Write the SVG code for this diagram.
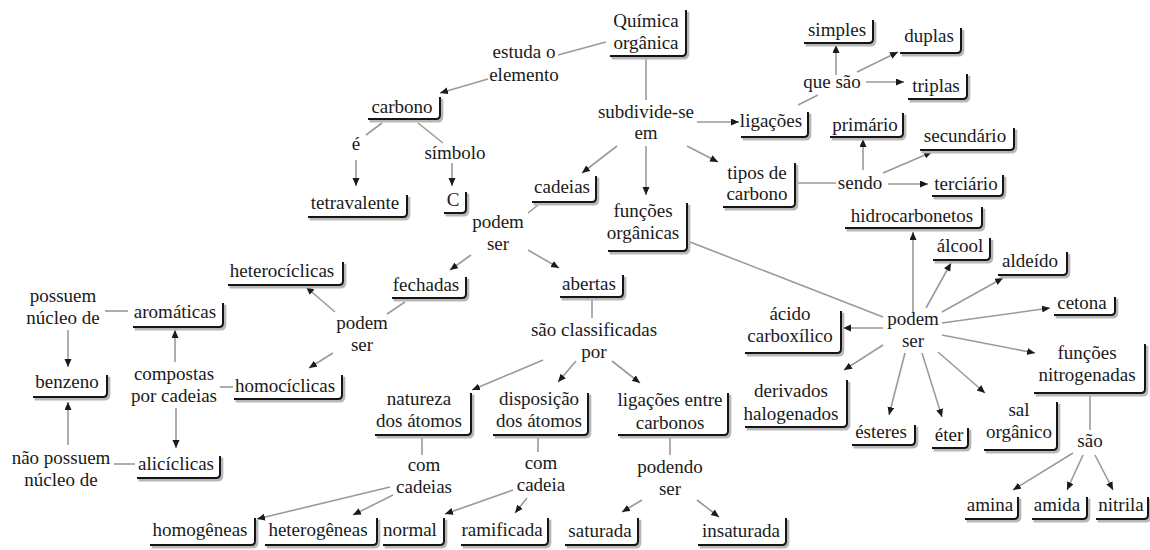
<svg xmlns="http://www.w3.org/2000/svg" width="1150" height="550" viewBox="0 0 1150 550">
<defs>
<marker id="ah" markerUnits="userSpaceOnUse" markerWidth="9" markerHeight="8" refX="8" refY="3.5" orient="auto">
<path d="M0,0 L8,3.5 L0,7 z" fill="#1a1a1a"/>
</marker>
<path id="b01" d="M610,56 H682 Q686,56 686,52 V10"/>
<path id="b02" d="M368,119 H436 Q440,119 440,115 V97"/>
<path id="b03" d="M308,217 H403 Q407,217 407,213 V195"/>
<path id="b04" d="M444,213 H462 Q466,213 466,209 V192"/>
<path id="b05" d="M741,137 H804 Q808,137 808,133 V112"/>
<path id="b06" d="M804,43 H869 Q873,43 873,39 V20"/>
<path id="b07" d="M900,53 H957 Q961,53 961,49 V28"/>
<path id="b08" d="M908,99 H963 Q967,99 967,95 V74"/>
<path id="b09" d="M830,137 H899 Q903,137 903,133 V113"/>
<path id="b10" d="M920,150 H1010 Q1014,150 1014,146 V128"/>
<path id="b11" d="M932,196 H999 Q1003,196 1003,192 V175"/>
<path id="b12" d="M723,207 H791 Q795,207 795,203 V163"/>
<path id="b13" d="M532,202 H592 Q596,202 596,198 V176"/>
<path id="b14" d="M608,251 H683 Q687,251 687,247 V203"/>
<path id="b15" d="M228,285 H339 Q343,285 343,281 V262"/>
<path id="b16" d="M392,298 H462 Q466,298 466,294 V277"/>
<path id="b17" d="M560,297 H619 Q623,297 623,293 V275"/>
<path id="b18" d="M133,327 H219 Q223,327 223,323 V303"/>
<path id="b19" d="M234,399 H338 Q342,399 342,395 V375"/>
<path id="b20" d="M33,397 H103 Q107,397 107,393 V375"/>
<path id="b21" d="M137,478 H216 Q220,478 220,474 V456"/>
<path id="b22" d="M375,435 H467 Q471,435 471,431 V393"/>
<path id="b23" d="M493,435 H584 Q588,435 588,431 V393"/>
<path id="b24" d="M618,435 H724 Q728,435 728,431 V393"/>
<path id="b25" d="M150,545 H251 Q255,545 255,541 V518"/>
<path id="b26" d="M265,545 H373 Q377,545 377,541 V518"/>
<path id="b27" d="M383,545 H440 Q444,545 444,541 V518"/>
<path id="b28" d="M461,545 H544 Q548,545 548,541 V518"/>
<path id="b29" d="M565,545 H634 Q638,545 638,541 V518"/>
<path id="b30" d="M698,545 H782 Q786,545 786,541 V518"/>
<path id="b31" d="M845,228 H978 Q982,228 982,224 V207"/>
<path id="b32" d="M933,260 H986 Q990,260 990,256 V238"/>
<path id="b33" d="M998,275 H1063 Q1067,275 1067,271 V252"/>
<path id="b34" d="M1054,315 H1111 Q1115,315 1115,311 V297"/>
<path id="b35" d="M1034,393 H1141 Q1145,393 1145,389 V344"/>
<path id="b36" d="M745,353 H837 Q841,353 841,349 V311"/>
<path id="b37" d="M745,427 H843 Q847,427 847,423 V380"/>
<path id="b38" d="M852,445 H911 Q915,445 915,441 V425"/>
<path id="b39" d="M932,448 H964 Q968,448 968,444 V428"/>
<path id="b40" d="M984,450 H1053 Q1057,450 1057,446 V402"/>
<path id="b41" d="M965,519 H1014 Q1018,519 1018,515 V497"/>
<path id="b42" d="M1032,519 H1083 Q1087,519 1087,515 V497"/>
<path id="b43" d="M1096,519 H1144 Q1148,519 1148,515 V497"/>
</defs>
<rect width="1150" height="550" fill="#fff"/>

<g id="connectors" stroke="#9a9a9a" stroke-width="1.6" fill="none">
<line x1="606" y1="42" x2="558" y2="55"/>
<line marker-end="url(#ah)" x1="488" y1="79" x2="440" y2="93"/>
<line x1="382" y1="123" x2="366" y2="135"/>
<line marker-end="url(#ah)" x1="356" y1="160" x2="356" y2="186"/>
<line x1="418" y1="123" x2="443" y2="143"/>
<line marker-end="url(#ah)" x1="452" y1="163" x2="452" y2="186"/>
<line x1="646" y1="56" x2="646" y2="100"/>
<line marker-end="url(#ah)" x1="697" y1="122" x2="739" y2="122"/>
<line x1="798" y1="105" x2="818" y2="95"/>
<line marker-end="url(#ah)" x1="836" y1="75" x2="836" y2="45"/>
<line marker-end="url(#ah)" x1="857" y1="72" x2="898" y2="52"/>
<line marker-end="url(#ah)" x1="866" y1="82" x2="904" y2="82"/>
<line marker-end="url(#ah)" x1="617" y1="146" x2="582" y2="173"/>
<line marker-end="url(#ah)" x1="646" y1="146" x2="646" y2="195"/>
<line marker-end="url(#ah)" x1="687" y1="146" x2="718" y2="162"/>
<line x1="797" y1="183" x2="836" y2="183"/>
<line marker-end="url(#ah)" x1="863" y1="170" x2="863" y2="139"/>
<line marker-end="url(#ah)" x1="883" y1="173" x2="932" y2="152"/>
<line marker-end="url(#ah)" x1="888" y1="184" x2="928" y2="184"/>
<line x1="538" y1="205" x2="528" y2="213"/>
<line marker-end="url(#ah)" x1="471" y1="255" x2="450" y2="270"/>
<line marker-end="url(#ah)" x1="528" y1="250" x2="559" y2="268"/>
<line x1="405" y1="302" x2="387" y2="314"/>
<line marker-end="url(#ah)" x1="335" y1="312" x2="306" y2="287"/>
<line marker-end="url(#ah)" x1="333" y1="353" x2="309" y2="368"/>
<line x1="233" y1="387" x2="220" y2="387"/>
<line marker-end="url(#ah)" x1="175" y1="362" x2="175" y2="330"/>
<line marker-end="url(#ah)" x1="176" y1="408" x2="176" y2="448"/>
<line x1="128" y1="311" x2="105" y2="311"/>
<line marker-end="url(#ah)" x1="68" y1="330" x2="68" y2="367"/>
<line x1="135" y1="464" x2="114" y2="464"/>
<line marker-end="url(#ah)" x1="68" y1="445" x2="68" y2="402"/>
<line x1="592" y1="298" x2="592" y2="318"/>
<line marker-end="url(#ah)" x1="543" y1="360" x2="472" y2="390"/>
<line marker-end="url(#ah)" x1="576" y1="361" x2="558" y2="382"/>
<line marker-end="url(#ah)" x1="612" y1="361" x2="640" y2="383"/>
<line x1="422" y1="436" x2="422" y2="455"/>
<line marker-end="url(#ah)" x1="390" y1="487" x2="257" y2="519"/>
<line marker-end="url(#ah)" x1="393" y1="495" x2="353" y2="515"/>
<line x1="538" y1="436" x2="538" y2="452"/>
<line marker-end="url(#ah)" x1="513" y1="490" x2="445" y2="514"/>
<line marker-end="url(#ah)" x1="527" y1="498" x2="515" y2="513"/>
<line x1="670" y1="436" x2="670" y2="455"/>
<line marker-end="url(#ah)" x1="642" y1="500" x2="622" y2="512"/>
<line marker-end="url(#ah)" x1="697" y1="500" x2="719" y2="517"/>
<line x1="690" y1="242" x2="883" y2="317"/>
<line marker-end="url(#ah)" x1="883" y1="328" x2="843" y2="328"/>
<line marker-end="url(#ah)" x1="913" y1="313" x2="913" y2="232"/>
<line marker-end="url(#ah)" x1="926" y1="308" x2="951" y2="263"/>
<line marker-end="url(#ah)" x1="942" y1="312" x2="1003" y2="278"/>
<line marker-end="url(#ah)" x1="942" y1="323" x2="1050" y2="308"/>
<line marker-end="url(#ah)" x1="942" y1="335" x2="1035" y2="353"/>
<line marker-end="url(#ah)" x1="883" y1="345" x2="844" y2="370"/>
<line marker-end="url(#ah)" x1="905" y1="353" x2="889" y2="415"/>
<line marker-end="url(#ah)" x1="922" y1="353" x2="942" y2="417"/>
<line marker-end="url(#ah)" x1="938" y1="352" x2="985" y2="393"/>
<line x1="1090" y1="394" x2="1090" y2="430"/>
<line marker-end="url(#ah)" x1="1073" y1="453" x2="1013" y2="490"/>
<line marker-end="url(#ah)" x1="1083" y1="455" x2="1067" y2="490"/>
<line marker-end="url(#ah)" x1="1095" y1="455" x2="1113" y2="490"/>
</g>

<g id="box-shadows" fill="none" stroke="#b8b8b8" stroke-width="3.5" transform="translate(1.6,1.8)">
<use href="#b01"/><use href="#b02"/><use href="#b03"/><use href="#b04"/><use href="#b05"/><use href="#b06"/><use href="#b07"/><use href="#b08"/><use href="#b09"/><use href="#b10"/><use href="#b11"/><use href="#b12"/><use href="#b13"/><use href="#b14"/><use href="#b15"/><use href="#b16"/><use href="#b17"/><use href="#b18"/><use href="#b19"/><use href="#b20"/><use href="#b21"/><use href="#b22"/><use href="#b23"/><use href="#b24"/><use href="#b25"/><use href="#b26"/><use href="#b27"/><use href="#b28"/><use href="#b29"/><use href="#b30"/><use href="#b31"/><use href="#b32"/><use href="#b33"/><use href="#b34"/><use href="#b35"/><use href="#b36"/><use href="#b37"/><use href="#b38"/><use href="#b39"/><use href="#b40"/><use href="#b41"/><use href="#b42"/><use href="#b43"/>
</g>
<g id="box-edges" fill="none" stroke="#151515" stroke-width="2">
<use href="#b01"/><use href="#b02"/><use href="#b03"/><use href="#b04"/><use href="#b05"/><use href="#b06"/><use href="#b07"/><use href="#b08"/><use href="#b09"/><use href="#b10"/><use href="#b11"/><use href="#b12"/><use href="#b13"/><use href="#b14"/><use href="#b15"/><use href="#b16"/><use href="#b17"/><use href="#b18"/><use href="#b19"/><use href="#b20"/><use href="#b21"/><use href="#b22"/><use href="#b23"/><use href="#b24"/><use href="#b25"/><use href="#b26"/><use href="#b27"/><use href="#b28"/><use href="#b29"/><use href="#b30"/><use href="#b31"/><use href="#b32"/><use href="#b33"/><use href="#b34"/><use href="#b35"/><use href="#b36"/><use href="#b37"/><use href="#b38"/><use href="#b39"/><use href="#b40"/><use href="#b41"/><use href="#b42"/><use href="#b43"/>
</g>

<g id="n-quimica"><text font-family="Liberation Serif" font-size="19" text-anchor="middle" fill="#1a1a1a" x="646" y="27">Química</text><text font-family="Liberation Serif" font-size="19" text-anchor="middle" fill="#1a1a1a" x="646" y="49">orgânica</text></g>
<g id="n-carbono"><text font-family="Liberation Serif" font-size="19" text-anchor="middle" fill="#1a1a1a" x="402" y="113">carbono</text></g>
<g id="n-tetravalente"><text font-family="Liberation Serif" font-size="19" text-anchor="middle" fill="#1a1a1a" x="355" y="209">tetravalente</text></g>
<g id="n-c"><text font-family="Liberation Serif" font-size="19" text-anchor="middle" fill="#1a1a1a" x="453" y="206">C</text></g>
<g id="n-ligacoes"><text font-family="Liberation Serif" font-size="19" text-anchor="middle" fill="#1a1a1a" x="771" y="127">ligações</text></g>
<g id="n-simples"><text font-family="Liberation Serif" font-size="19" text-anchor="middle" fill="#1a1a1a" x="837" y="36">simples</text></g>
<g id="n-duplas"><text font-family="Liberation Serif" font-size="19" text-anchor="middle" fill="#1a1a1a" x="929" y="42">duplas</text></g>
<g id="n-triplas"><text font-family="Liberation Serif" font-size="19" text-anchor="middle" fill="#1a1a1a" x="936" y="92">triplas</text></g>
<g id="n-primario"><text font-family="Liberation Serif" font-size="19" text-anchor="middle" fill="#1a1a1a" x="865" y="131">primário</text></g>
<g id="n-secundario"><text font-family="Liberation Serif" font-size="19" text-anchor="middle" fill="#1a1a1a" x="965" y="142">secundário</text></g>
<g id="n-terciario"><text font-family="Liberation Serif" font-size="19" text-anchor="middle" fill="#1a1a1a" x="966" y="190">terciário</text></g>
<g id="n-tipos"><text font-family="Liberation Serif" font-size="19" text-anchor="middle" fill="#1a1a1a" x="757" y="179">tipos de</text><text font-family="Liberation Serif" font-size="19" text-anchor="middle" fill="#1a1a1a" x="757" y="200">carbono</text></g>
<g id="n-cadeias"><text font-family="Liberation Serif" font-size="19" text-anchor="middle" fill="#1a1a1a" x="562" y="193">cadeias</text></g>
<g id="n-funcoes"><text font-family="Liberation Serif" font-size="19" text-anchor="middle" fill="#1a1a1a" x="643" y="217">funções</text><text font-family="Liberation Serif" font-size="19" text-anchor="middle" fill="#1a1a1a" x="643" y="239">orgânicas</text></g>
<g id="n-heterociclicas"><text font-family="Liberation Serif" font-size="19" text-anchor="middle" fill="#1a1a1a" x="282" y="277">heterocíclicas</text></g>
<g id="n-fechadas"><text font-family="Liberation Serif" font-size="19" text-anchor="middle" fill="#1a1a1a" x="426" y="291">fechadas</text></g>
<g id="n-abertas"><text font-family="Liberation Serif" font-size="19" text-anchor="middle" fill="#1a1a1a" x="589" y="290">abertas</text></g>
<g id="n-aromaticas"><text font-family="Liberation Serif" font-size="19" text-anchor="middle" fill="#1a1a1a" x="175" y="318">aromáticas</text></g>
<g id="n-homociclicas"><text font-family="Liberation Serif" font-size="19" text-anchor="middle" fill="#1a1a1a" x="285" y="392">homocíclicas</text></g>
<g id="n-benzeno"><text font-family="Liberation Serif" font-size="19" text-anchor="middle" fill="#1a1a1a" x="67" y="388">benzeno</text></g>
<g id="n-aliciclicas"><text font-family="Liberation Serif" font-size="19" text-anchor="middle" fill="#1a1a1a" x="176" y="470">alicíclicas</text></g>
<g id="n-natureza"><text font-family="Liberation Serif" font-size="19" text-anchor="middle" fill="#1a1a1a" x="419" y="405">natureza</text><text font-family="Liberation Serif" font-size="19" text-anchor="middle" fill="#1a1a1a" x="419" y="427">dos átomos</text></g>
<g id="n-disposicao"><text font-family="Liberation Serif" font-size="19" text-anchor="middle" fill="#1a1a1a" x="539" y="405">disposição</text><text font-family="Liberation Serif" font-size="19" text-anchor="middle" fill="#1a1a1a" x="539" y="427">dos átomos</text></g>
<g id="n-ligacoes-entre"><text font-family="Liberation Serif" font-size="19" text-anchor="middle" fill="#1a1a1a" x="670" y="406">ligações entre</text><text font-family="Liberation Serif" font-size="19" text-anchor="middle" fill="#1a1a1a" x="670" y="429">carbonos</text></g>
<g id="n-homogeneas"><text font-family="Liberation Serif" font-size="19" text-anchor="middle" fill="#1a1a1a" x="200" y="536">homogêneas</text></g>
<g id="n-heterogeneas"><text font-family="Liberation Serif" font-size="19" text-anchor="middle" fill="#1a1a1a" x="318" y="536">heterogêneas</text></g>
<g id="n-normal"><text font-family="Liberation Serif" font-size="19" text-anchor="middle" fill="#1a1a1a" x="410" y="536">normal</text></g>
<g id="n-ramificada"><text font-family="Liberation Serif" font-size="19" text-anchor="middle" fill="#1a1a1a" x="502" y="536">ramificada</text></g>
<g id="n-saturada"><text font-family="Liberation Serif" font-size="19" text-anchor="middle" fill="#1a1a1a" x="600" y="537">saturada</text></g>
<g id="n-insaturada"><text font-family="Liberation Serif" font-size="19" text-anchor="middle" fill="#1a1a1a" x="741" y="537">insaturada</text></g>
<g id="n-hidrocarbonetos"><text font-family="Liberation Serif" font-size="19" text-anchor="middle" fill="#1a1a1a" x="912" y="222">hidrocarbonetos</text></g>
<g id="n-alcool"><text font-family="Liberation Serif" font-size="19" text-anchor="middle" fill="#1a1a1a" x="960" y="252">álcool</text></g>
<g id="n-aldeido"><text font-family="Liberation Serif" font-size="19" text-anchor="middle" fill="#1a1a1a" x="1030" y="267">aldeído</text></g>
<g id="n-cetona"><text font-family="Liberation Serif" font-size="19" text-anchor="middle" fill="#1a1a1a" x="1082" y="309">cetona</text></g>
<g id="n-nitrogenadas"><text font-family="Liberation Serif" font-size="19" text-anchor="middle" fill="#1a1a1a" x="1087" y="359">funções</text><text font-family="Liberation Serif" font-size="19" text-anchor="middle" fill="#1a1a1a" x="1087" y="381">nitrogenadas</text></g>
<g id="n-acido"><text font-family="Liberation Serif" font-size="19" text-anchor="middle" fill="#1a1a1a" x="790" y="320">ácido</text><text font-family="Liberation Serif" font-size="19" text-anchor="middle" fill="#1a1a1a" x="790" y="342">carboxílico</text></g>
<g id="n-derivados"><text font-family="Liberation Serif" font-size="19" text-anchor="middle" fill="#1a1a1a" x="791" y="397">derivados</text><text font-family="Liberation Serif" font-size="19" text-anchor="middle" fill="#1a1a1a" x="791" y="420">halogenados</text></g>
<g id="n-esteres"><text font-family="Liberation Serif" font-size="19" text-anchor="middle" fill="#1a1a1a" x="881" y="438">ésteres</text></g>
<g id="n-eter"><text font-family="Liberation Serif" font-size="19" text-anchor="middle" fill="#1a1a1a" x="949" y="441">éter</text></g>
<g id="n-sal"><text font-family="Liberation Serif" font-size="19" text-anchor="middle" fill="#1a1a1a" x="1019" y="416">sal</text><text font-family="Liberation Serif" font-size="19" text-anchor="middle" fill="#1a1a1a" x="1019" y="438">orgânico</text></g>
<g id="n-amina"><text font-family="Liberation Serif" font-size="19" text-anchor="middle" fill="#1a1a1a" x="990" y="511">amina</text></g>
<g id="n-amida"><text font-family="Liberation Serif" font-size="19" text-anchor="middle" fill="#1a1a1a" x="1057" y="511">amida</text></g>
<g id="n-nitrila"><text font-family="Liberation Serif" font-size="19" text-anchor="middle" fill="#1a1a1a" x="1121" y="511">nitrila</text></g>

<g id="l-estuda"><text font-family="Liberation Serif" font-size="19" text-anchor="middle" fill="#1a1a1a" x="524" y="58">estuda o</text><text font-family="Liberation Serif" font-size="19" text-anchor="middle" fill="#1a1a1a" x="524" y="81">elemento</text></g>
<g id="l-e"><text font-family="Liberation Serif" font-size="19" text-anchor="middle" fill="#1a1a1a" x="356" y="150">é</text></g>
<g id="l-simbolo"><text font-family="Liberation Serif" font-size="19" text-anchor="middle" fill="#1a1a1a" x="455" y="159">símbolo</text></g>
<g id="l-subdivide"><text font-family="Liberation Serif" font-size="19" text-anchor="middle" fill="#1a1a1a" x="646" y="118">subdivide-se</text><text font-family="Liberation Serif" font-size="19" text-anchor="middle" fill="#1a1a1a" x="646" y="139">em</text></g>
<g id="l-quesao"><text font-family="Liberation Serif" font-size="19" text-anchor="middle" fill="#1a1a1a" x="832" y="88">que são</text></g>
<g id="l-sendo"><text font-family="Liberation Serif" font-size="19" text-anchor="middle" fill="#1a1a1a" x="860" y="189">sendo</text></g>
<g id="l-podem1"><text font-family="Liberation Serif" font-size="19" text-anchor="middle" fill="#1a1a1a" x="498" y="228">podem</text><text font-family="Liberation Serif" font-size="19" text-anchor="middle" fill="#1a1a1a" x="498" y="250">ser</text></g>
<g id="l-podem2"><text font-family="Liberation Serif" font-size="19" text-anchor="middle" fill="#1a1a1a" x="362" y="329">podem</text><text font-family="Liberation Serif" font-size="19" text-anchor="middle" fill="#1a1a1a" x="362" y="351">ser</text></g>
<g id="l-classificadas"><text font-family="Liberation Serif" font-size="19" text-anchor="middle" fill="#1a1a1a" x="594" y="336">são classificadas</text><text font-family="Liberation Serif" font-size="19" text-anchor="middle" fill="#1a1a1a" x="594" y="358">por</text></g>
<g id="l-compostas"><text font-family="Liberation Serif" font-size="19" text-anchor="middle" fill="#1a1a1a" x="174" y="380">compostas</text><text font-family="Liberation Serif" font-size="19" text-anchor="middle" fill="#1a1a1a" x="174" y="402">por cadeias</text></g>
<g id="l-possuem"><text font-family="Liberation Serif" font-size="19" text-anchor="middle" fill="#1a1a1a" x="63" y="302">possuem</text><text font-family="Liberation Serif" font-size="19" text-anchor="middle" fill="#1a1a1a" x="63" y="324">núcleo de</text></g>
<g id="l-naopossuem"><text font-family="Liberation Serif" font-size="19" text-anchor="middle" fill="#1a1a1a" x="61" y="464">não possuem</text><text font-family="Liberation Serif" font-size="19" text-anchor="middle" fill="#1a1a1a" x="61" y="486">núcleo de</text></g>
<g id="l-comcadeias"><text font-family="Liberation Serif" font-size="19" text-anchor="middle" fill="#1a1a1a" x="424" y="471">com</text><text font-family="Liberation Serif" font-size="19" text-anchor="middle" fill="#1a1a1a" x="424" y="493">cadeias</text></g>
<g id="l-comcadeia"><text font-family="Liberation Serif" font-size="19" text-anchor="middle" fill="#1a1a1a" x="541" y="469">com</text><text font-family="Liberation Serif" font-size="19" text-anchor="middle" fill="#1a1a1a" x="541" y="491">cadeia</text></g>
<g id="l-podendo"><text font-family="Liberation Serif" font-size="19" text-anchor="middle" fill="#1a1a1a" x="670" y="473">podendo</text><text font-family="Liberation Serif" font-size="19" text-anchor="middle" fill="#1a1a1a" x="670" y="495">ser</text></g>
<g id="l-podem3"><text font-family="Liberation Serif" font-size="19" text-anchor="middle" fill="#1a1a1a" x="913" y="325">podem</text><text font-family="Liberation Serif" font-size="19" text-anchor="middle" fill="#1a1a1a" x="913" y="347">ser</text></g>
<g id="l-sao"><text font-family="Liberation Serif" font-size="19" text-anchor="middle" fill="#1a1a1a" x="1090" y="447">são</text></g>
</svg>
